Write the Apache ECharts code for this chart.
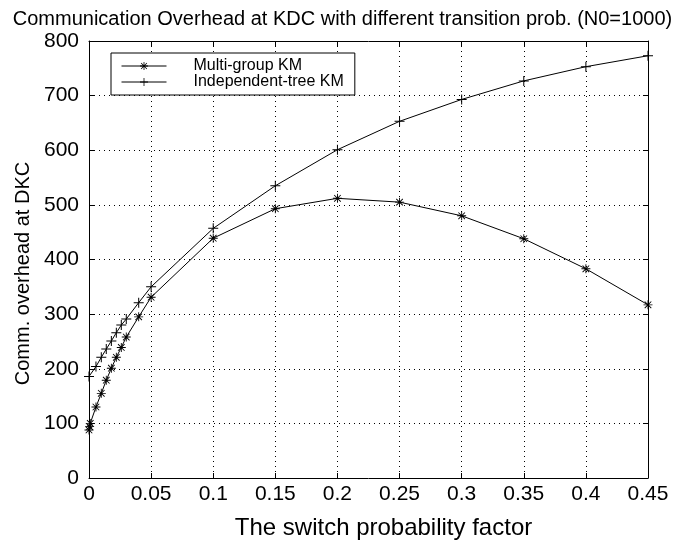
<!DOCTYPE html>
<html><head><meta charset="utf-8">
<script src="https://cdn.jsdelivr.net/npm/echarts@6/dist/echarts.min.js"></script>
<style>html,body{margin:0;padding:0;background:#fff}#c{width:685px;height:540px}</style>
</head><body><div id="c"></div>
<script>
const titleText = 'Communication Overhead at KDC with different transition prob. (N0=1000)';
const xName = 'The switch probability factor';
const yName = 'Comm. overhead at DKC';
const seriesNames = ['Multi-group KM', 'Independent-tree KM'];
const xMulti = [0, 0.0005, 0.001, 0.0056, 0.0099, 0.0139, 0.018, 0.022, 0.026, 0.030, 0.04, 0.05, 0.1, 0.15, 0.2, 0.25, 0.3, 0.35, 0.4, 0.45];
const yMulti = [88, 94, 100, 130, 155, 179, 201, 221, 239, 258, 295, 331, 439, 493, 512, 505, 480, 438, 383, 317];
const xIndep = [0, 0.0056, 0.0099, 0.0139, 0.018, 0.022, 0.026, 0.030, 0.04, 0.05, 0.1, 0.15, 0.2, 0.25, 0.3, 0.35, 0.4, 0.45];
const yIndep = [186, 204, 221, 236, 251, 266, 280, 291, 321, 350, 457, 535, 601, 653, 693, 727, 753, 773];

const FONT = "'Liberation Sans', Arial, sans-serif";
const STAR = 'path://M4.5,0h1v10h-1z M0,4.5h10v1h-10z M1,1.7L1.7,1L9,8.3L8.3,9z M8.3,1L9,1.7L1.7,9L1,8.3z';
const PLUS = 'path://M4.5,0h1v10h-1z M0,4.5h10v1h-10z';

const chart = echarts.init(document.getElementById('c'), null, {renderer: 'canvas'});
const axisCommon = {
  type: 'value',
  axisLine: {show: true, onZero: false, lineStyle: {color: '#000', width: 1}},
  axisTick: {show: true, inside: true, length: 5, lineStyle: {color: '#000'}},
};
chart.setOption({
  animation: false,
  backgroundColor: '#fff',
  title: {text: titleText, left: 'center', top: 4,
    textStyle: {fontFamily: FONT, fontSize: 20, fontWeight: 'normal', color: '#000'}},
  grid: {left: 89, right: 37, top: 41, bottom: 62, show: false,
    containLabel: false, outerBoundsMode: 'none'},
  legend: {
    orient: 'vertical', left: 111, top: 53, itemGap: 0,
    itemWidth: 45, itemHeight: 10,
    padding: [5, 11, 5, 10],
    borderColor: '#000', borderWidth: 1, backgroundColor: '#fff',
    lineStyle: {width: 1, color: '#000'},
    textStyle: {fontFamily: FONT, fontSize: 16, color: '#000', padding: [0, 0, 0, 22]},
    data: seriesNames
  },
  xAxis: [
    Object.assign({}, axisCommon, {
      position: 'bottom', min: 0, max: 0.45, interval: 0.05,
      name: xName, nameLocation: 'middle', nameGap: 38,
      nameTextStyle: {fontFamily: FONT, fontSize: 24, color: '#000', padding: [0, 0, 0, 30]},
      axisLabel: {fontFamily: FONT, fontSize: 21, color: '#000', margin: 6},
      splitLine: {show: true, lineStyle: {color: '#000', type: [1, 4], width: 1}}
    }),
    Object.assign({}, axisCommon, {
      position: 'top', min: 0, max: 0.45, interval: 0.05,
      axisLabel: {show: false}, splitLine: {show: false}
    })
  ],
  yAxis: [
    Object.assign({}, axisCommon, {
      position: 'left', min: 0, max: 800, interval: 100,
      name: yName, nameLocation: 'middle', nameGap: 55,
      nameTextStyle: {fontFamily: FONT, fontSize: 20, color: '#000', padding: [0, 28, 0, 0]},
      axisLabel: {fontFamily: FONT, fontSize: 21, color: '#000', margin: 10},
      splitLine: {show: true, lineStyle: {color: '#000', type: [1, 4], width: 1}}
    }),
    Object.assign({}, axisCommon, {
      position: 'right', min: 0, max: 800, interval: 100,
      axisLabel: {show: false}, splitLine: {show: false}
    })
  ],
  series: [
    {name: seriesNames[0], type: 'line', xAxisIndex: 0, yAxisIndex: 0,
     data: xMulti.map((x, i) => [x, yMulti[i]]),
     symbol: STAR, symbolSize: 9, showAllSymbol: true,
     lineStyle: {color: '#000', width: 1}, itemStyle: {color: '#000'}},
    {name: seriesNames[1], type: 'line', xAxisIndex: 0, yAxisIndex: 0,
     data: xIndep.map((x, i) => [x, yIndep[i]]),
     symbol: PLUS, symbolSize: 10, showAllSymbol: true,
     lineStyle: {color: '#000', width: 1}, itemStyle: {color: '#000'}}
  ]
});
</script></body></html>
